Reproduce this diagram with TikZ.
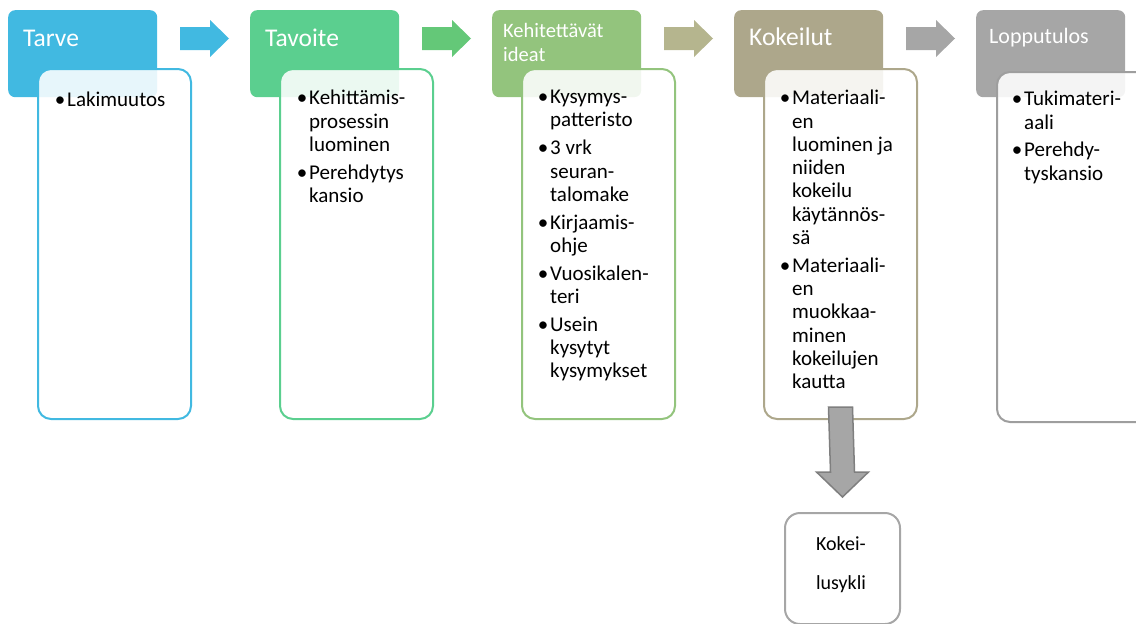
\documentclass[tikz,border=0pt]{standalone}
\usepackage{fontspec}
\setmainfont{Carlito}
\usepackage{tikz}
\usetikzlibrary{calc,positioning}
\definecolor{ctarve}{HTML}{41B9E1}
\definecolor{ctavoite}{HTML}{5BCF8F}
\definecolor{ckehit}{HTML}{93C47D}
\definecolor{ckok}{HTML}{ADA78B}
\definecolor{cloppu}{HTML}{A6A6A6}
\definecolor{carr2}{HTML}{64C878}
\definecolor{carr3}{HTML}{B5B58E}
\definecolor{carrdn}{HTML}{7F7F7F}
\newcommand\bul{\makebox[13pt][l]{\makebox[12pt][c]{\textbullet}}}
\newcommand\ind{\hspace*{13pt}}
\begin{document}
\begin{tikzpicture}[x=1pt,y=-1pt,
  head/.style={rounded corners=7pt,inner sep=0pt,anchor=north west,minimum width=149pt,minimum height=87pt},
  card/.style={draw,line width=2pt,fill=white,fill opacity=0.88,rounded corners=13pt,anchor=north west,minimum width=153pt,minimum height=350pt,inner sep=0pt},
  htext/.style={text=white,anchor=base west,inner sep=0pt,align=left,font=\fontsize{25.5}{30}\selectfont},
  items/.style={anchor=north west,inner sep=0pt,align=left,font=\fontsize{21}{23.3}\selectfont,execute at begin node={\rule{0pt}{16pt}}}]
\useasboundingbox (0,0) rectangle (1136,624);
% header boxes
\node[head,fill=ctarve] (tarve) at (8,10) {};
\node[head,fill=ctavoite] (tavoite) at (250,10) {};
\node[head,fill=ckehit] (kehit) at (492,10) {};
\node[head,fill=ckok] (kok) at (734,10) {};
\node[head,fill=cloppu] (loppu) at (976,10) {};
\node[htext] (tarveT) at (23,46) {Tarve};
\node[htext] (tavoiteT) at (265,46) {Tavoite};
\node[htext,font=\fontsize{20.5}{24}\selectfont] (kehitT) at (503,61) {Kehitettävät\\ideat};
\node[htext] (kokT) at (749,45) {Kokeilut};
\node[htext,font=\fontsize{22}{26}\selectfont] (loppuT) at (989,43) {Lopputulos};
% arrows between the steps
\fill[ctarve] (180,27)--(210,27)--(210,20)--(229,38.5)--(210,57)--(210,50)--(180,50)--cycle;
\fill[carr2,xshift=242] (180,27)--(210,27)--(210,20)--(229,38.5)--(210,57)--(210,50)--(180,50)--cycle;
\fill[carr3,xshift=484] (180,27)--(210,27)--(210,20)--(229,38.5)--(210,57)--(210,50)--(180,50)--cycle;
\fill[cloppu,xshift=726] (180,27)--(210,27)--(210,20)--(229,38.5)--(210,57)--(210,50)--(180,50)--cycle;
% cards
\node[card,draw=ctarve] (tarveB) at (37,68) {};
\node[card,draw=ctavoite] (tavoiteB) at (279,68) {};
\node[card,draw=ckehit] (kehitB) at (521,68) {};
\node[card,draw=ckok] (kokB) at (763,68) {};
\node[card,draw=cloppu!95!black] (loppuB) at (996,71) {};
\node[items] (tarveL) at (54,90) {\bul Lakimuutos};
\node[items] (tavoiteL) at (296,90) {\bul Kehittämis-\\\ind prosessin\\\ind luominen\\[4.5pt]\bul Perehdytys\\\ind kansio};
\node[items] (kehitL) at (537,90) {\bul Kysymys-\\\ind patteristo\\[4.5pt]\bul 3 vrk\\\ind seuran-\\\ind talomake\\[4.5pt]\bul Kirjaamis-\\\ind ohje\\[4.5pt]\bul Vuosikalen-\\\ind teri\\[4.5pt]\bul Usein\\\ind kysytyt\\\ind kysymykset};
\node[items] (kokL) at (779,90) {\bul Materiaali-\\\ind en\\\ind luominen ja\\\ind niiden\\\ind kokeilu\\\ind käytännös-\\\ind sä\\[4.5pt]\bul Materiaali-\\\ind en\\\ind muokkaa-\\\ind minen\\\ind kokeilujen\\\ind kautta};
\node[items] (loppuL) at (1011,91) {\bul Tukimateri-\\\ind aali\\[4.5pt]\bul Perehdy-\\\ind tyskansio};
% trial cycle
\node[draw=cloppu,line width=2pt,rounded corners=15pt,anchor=north west,minimum width=115pt,minimum height=111pt,inner sep=0pt] (sykli) at (784,512) {};
\node[anchor=base,inner sep=0pt,align=center,font=\fontsize{20}{39}\selectfont] (sykliT) at (841,589) {Kokei-\\lusykli};
\coordinate (dtop) at ($(kokB.south)+(0,-13)$);
\coordinate (dtip) at ($(sykli.north)+(0,-15)$);
\filldraw[fill=cloppu,draw=carrdn,line width=1.5pt] ($(dtop)+(-12,0)$)--($(dtop)+(12,0)$)--($(dtip)+(12,-25)$)--($(dtip)+(26,-25)$)--(dtip)--($(dtip)+(-26,-25)$)--($(dtip)+(-12,-25)$)--cycle;
\end{tikzpicture}
\end{document}
